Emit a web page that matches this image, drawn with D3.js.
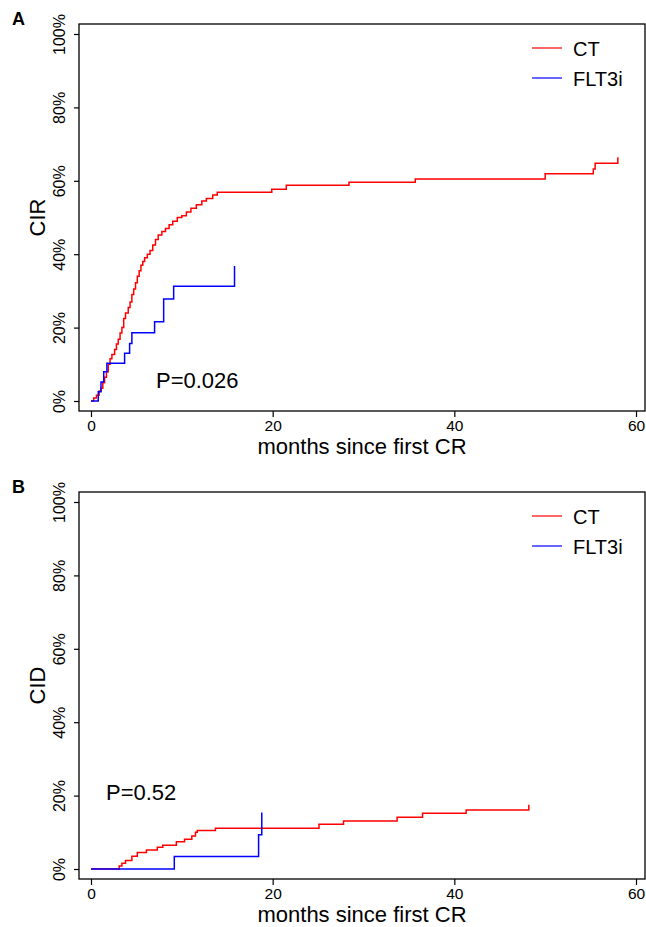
<!DOCTYPE html>
<html>
<head>
<meta charset="utf-8">
<script src="https://cdn.jsdelivr.net/npm/d3@7"></script>
<style>
  body { margin: 0; background: #fff; }
  svg text { font-family: "Liberation Sans", Arial, sans-serif; }
</style>
</head>
<body>
<div class="chart"></div>
<script>
// Cumulative incidence, CT vs FLT3i (A: relapse, B: death)

var xTicks = [0, 20, 40, 60];
var yTicks = [0, 0.2, 0.4, 0.6, 0.8, 1];
var seriesNames = ["CT", "FLT3i"];
var seriesColors = ["#ff0000", "#0000ff"];

// panel A, CIR: [months, cumulative incidence]
var cirCT = [
  [0, 0], [0.3, 0.008], [0.6, 0.016], [0.9, 0.027], [1.1, 0.035], [1.3, 0.05],
  [1.5, 0.065], [1.7, 0.08], [1.9, 0.10], [2.1, 0.115], [2.3, 0.127], [2.6, 0.14],
  [2.8, 0.155], [3.0, 0.168], [3.2, 0.185], [3.4, 0.20], [3.6, 0.225], [3.8, 0.24],
  [4.1, 0.255], [4.3, 0.27], [4.5, 0.29], [4.7, 0.305], [4.9, 0.322], [5.1, 0.34],
  [5.3, 0.355], [5.5, 0.37], [5.7, 0.38], [5.9, 0.39], [6.2, 0.40], [6.5, 0.41],
  [6.8, 0.425], [7.1, 0.44], [7.4, 0.452], [7.8, 0.462], [8.2, 0.47], [8.6, 0.48],
  [9.0, 0.49], [9.5, 0.50], [10.0, 0.505], [10.5, 0.515], [11.0, 0.525], [11.6, 0.535],
  [12.2, 0.545], [12.7, 0.552], [13.4, 0.561], [13.9, 0.569], [19.9, 0.577],
  [21.5, 0.588], [28.4, 0.596], [35.7, 0.605], [50.0, 0.619], [55.3, 0.632],
  [55.5, 0.648], [58.0, 0.664]
];
var cirFLT3i = [
  [0, 0], [0.8, 0.025], [1.1, 0.052], [1.4, 0.08], [1.75, 0.103], [3.7, 0.13],
  [4.25, 0.157], [4.5, 0.186], [7.0, 0.216], [8.0, 0.278], [9.1, 0.313], [15.8, 0.368]
];

// panel B, CID
var cidCT = [
  [0, 0], [3.1, 0.008], [3.4, 0.0155], [3.8, 0.023], [4.5, 0.035], [5.1, 0.045],
  [6.1, 0.052], [7.3, 0.059], [7.9, 0.065], [9.4, 0.074], [10.3, 0.081], [11.1, 0.09],
  [11.5, 0.10], [11.7, 0.105], [13.7, 0.111], [25.1, 0.122], [27.8, 0.131],
  [33.7, 0.141], [36.5, 0.152], [41.3, 0.161], [48.2, 0.175]
];
var cidFLT3i = [
  [0, 0], [9.17, 0.034], [18.45, 0.093], [18.8, 0.154]
];

var svg = d3.select(".chart").append("svg")
    .attr("width", 646)
    .attr("height", 927);

var panels = [
  {label: "A", title: "CIR", p: "P=0.026", top: 24, curves: [cirCT, cirFLT3i], pPos: [156, 388]},
  {label: "B", title: "CID", p: "P=0.52", top: 492, curves: [cidCT, cidFLT3i], pPos: [106, 800]}
];

var x = d3.scaleLinear().domain([0, 60]).range([91, 636]);
var boxLeft = 79, boxRight = 645;

panels.forEach(function(panel) {

    var top = panel.top;
    var bottom = top + 387;
    var y = d3.scaleLinear().domain([0, 1]).range([bottom - 10, top + 10]);

    var g = svg.append("g");

    g.append("rect")
        .attr("x", boxLeft)
        .attr("y", top)
        .attr("width", boxRight - boxLeft)
        .attr("height", bottom - top)
        .attr("fill", "none")
        .attr("stroke", "#000")
        .attr("stroke-width", 1.3);

    // y axis
    var yAxis = d3.axisLeft(y)
        .tickValues(yTicks)
        .tickSize(5)
        .tickFormat(d3.format(".0%"));

    var ya = g.append("g")
        .attr("transform", "translate(" + boxLeft + ",0)")
        .call(yAxis);
    ya.select(".domain").remove();
    ya.selectAll(".tick line").attr("stroke-width", 1.2);
    ya.selectAll(".tick text")
        .attr("x", 0)
        .attr("dy", 0)
        .attr("transform", "translate(-14,0) rotate(-90)")
        .attr("text-anchor", "middle")
        .attr("font-size", 16)
        .attr("fill", "#000");

    // x axis
    var xAxis = d3.axisBottom(x)
        .tickValues(xTicks)
        .tickSize(6)
        .tickPadding(3);

    var xa = g.append("g")
        .attr("transform", "translate(0," + bottom + ")")
        .call(xAxis);
    xa.select(".domain").remove();
    xa.selectAll(".tick line").attr("stroke-width", 1.2);
    xa.selectAll(".tick text")
        .attr("font-size", 15.5)
        .attr("fill", "#000");

    g.append("text")
        .attr("x", (boxLeft + boxRight) / 2)
        .attr("y", bottom + 43)
        .attr("text-anchor", "middle")
        .attr("font-size", 22)
        .text("months since first CR");

    g.append("text")
        .attr("transform", "translate(45," + ((top + bottom) / 2) + ") rotate(-90)")
        .attr("text-anchor", "middle")
        .attr("font-size", 22)
        .text(panel.title);

    g.append("text")
        .attr("x", 12)
        .attr("y", top + 1)
        .attr("font-size", 18)
        .attr("font-weight", "bold")
        .text(panel.label);

    var line = d3.line()
        .x(function(d) { return x(d[0]); })
        .y(function(d) { return y(d[1]); })
        .curve(d3.curveStepAfter);

    panel.curves.forEach(function(c, i) {
        g.append("path")
            .datum(c)
            .attr("d", line)
            .attr("fill", "none")
            .attr("stroke", seriesColors[i])
            .attr("stroke-width", 1.5);
    });

    // legend
    seriesNames.forEach(function(name, i) {
        var ly = top + 24 + i * 30;
        g.append("line")
            .attr("x1", 532).attr("x2", 562)
            .attr("y1", ly).attr("y2", ly)
            .attr("stroke", seriesColors[i])
            .attr("stroke-width", 1.2);
        g.append("text")
            .attr("x", 573)
            .attr("y", ly + 8)
            .attr("font-size", 20)
            .text(name);
    });

    g.append("text")
        .attr("x", panel.pPos[0])
        .attr("y", panel.pPos[1])
        .attr("font-size", 22)
        .text(panel.p);
});
</script>
</body>
</html>
